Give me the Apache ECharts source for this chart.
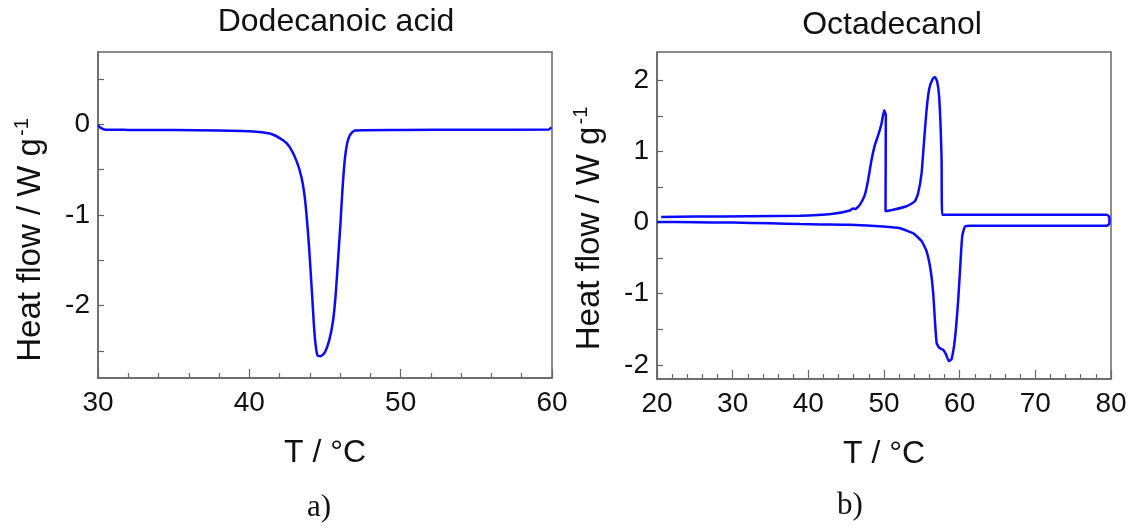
<!DOCTYPE html>
<html>
<head>
    <meta charset="utf-8">
    <title>DSC curves</title>
    <script src="https://cdn.jsdelivr.net/npm/echarts@6/dist/echarts.min.js"></script>
</head>
<body style="margin:0">
    <div id="main" style="width:1133px;height:526px;"></div>
    <script type="text/javascript">
        // a) dodecanoic acid, heating run
        var dodecT = [30.0, 30.2, 30.5, 32, 35, 38, 40.0, 41.35, 42.25, 42.67, 43.11, 43.44, 43.66, 43.81, 43.95, 44.06,
            44.17, 44.26, 44.37, 44.5, 44.7, 44.98, 45.27, 45.53, 45.71, 45.86, 46.02, 46.15, 46.3, 46.46, 46.64, 46.97,
            50, 55, 59.8, 59.95];
        var dodecQ = [-0.01, -0.04, -0.058, -0.06, -0.062, -0.066, -0.074, -0.10, -0.177, -0.25, -0.40, -0.58, -0.80, -1.06, -1.36, -1.65,
            -1.94, -2.20, -2.42, -2.55, -2.56, -2.52, -2.39, -2.17, -1.87, -1.50, -1.10, -0.73, -0.40, -0.21, -0.12, -0.066,
            -0.062, -0.058, -0.055, -0.03];

        // b) octadecanol, heating (lower branch, left to right)
        var heatT = [20, 25, 30, 35, 38.9, 41.7, 45.5, 49.9, 52.1, 53.86, 54.96, 55.62, 56.15, 56.5, 56.72, 56.95,
            57.29, 57.82, 58.18, 58.58, 58.93, 59.37, 59.81, 60.13, 60.34, 60.7, 61.5, 70, 79.4, 79.7, 79.8, 79.7];
        var heatQ = [0.01, 0.005, 0.0, -0.01, -0.02, -0.025, -0.03, -0.055, -0.08, -0.15, -0.26, -0.40, -0.66, -0.99, -1.36, -1.69,
            -1.76, -1.79, -1.85, -1.95, -1.92, -1.64, -1.08, -0.52, -0.19, -0.055, -0.045, -0.045, -0.045, -0.03, 0.03, 0.09];
        // b) octadecanol, cooling (upper branch, right to left)
        var coolT = [79.4, 70, 62, 57.69, 57.61, 57.48, 57.29, 57.03, 56.72, 56.42, 55.97, 55.62, 55.27, 54.96, 54.5, 54.08,
            52.98, 51.2, 50.2, 50.24, 50.02, 49.67, 49.23, 48.79, 48.35, 47.9, 47.47, 46.8, 46.2, 45.9, 45.5, 43.27,
            38.86, 32, 25, 20.55];
        var coolQ = [0.11, 0.11, 0.11, 0.11, 0.88, 1.35, 1.77, 1.98, 2.05, 2.02, 1.88, 1.58, 1.11, 0.69, 0.41, 0.30,
            0.23, 0.18, 0.16, 1.51, 1.58, 1.39, 1.23, 1.09, 0.88, 0.60, 0.39, 0.25, 0.19, 0.2, 0.17, 0.123,
            0.095, 0.09, 0.085, 0.08];

        // tick positions / labels
        var leftYLabels = [-2, -1, 0];
        var leftYTicks = [-2.5, -2, -1.5, -1, -0.5, 0, 0.5];
        var rightYLabels = [-2, -1, 0, 1, 2];
        var rightYTicks = [-2, -1.5, -1, -0.5, 0, 0.5, 1, 1.5, 2];

        function pairs(t, q) {
            return t.map(function (v, i) { return [v, q[i]]; });
        }

        var sans = 'Liberation Sans, Arial, sans-serif';
        var axisColor = '#666';

        function xAxisOpt(idx, min, max) {
            return {
                type: 'value', gridIndex: idx, min: min, max: max, interval: 10,
                axisLine: { show: true, onZero: false, lineStyle: { color: axisColor, width: 1.5 } },
                axisTick: { inside: true, length: 9, lineStyle: { color: axisColor, width: 1.2 } },
                minorTick: { show: true, splitNumber: 5, length: 5, lineStyle: { color: axisColor, width: 1.2 } },
                axisLabel: { margin: 11, fontSize: 28, color: '#111', fontFamily: sans },
                splitLine: { show: false },
                name: 'T / °C', nameLocation: 'middle', nameGap: 59,
                nameTextStyle: { fontSize: 32, color: '#111', fontFamily: sans }
            };
        }

        function yAxisOpt(idx, min, max, ticks, labels, shift) {
            return {
                type: 'value', gridIndex: idx, min: min, max: max,
                axisLine: { show: true, onZero: false, lineStyle: { color: axisColor, width: 1.5 } },
                axisTick: { inside: true, length: 6, customValues: ticks, lineStyle: { color: axisColor, width: 1.2 } },
                axisLabel: { margin: 8, fontSize: 28, color: '#111', fontFamily: sans, customValues: labels },
                splitLine: { show: false },
                name: 'Heat flow / W g{sup|-1}', nameLocation: 'middle', nameGap: 48,
                nameTextStyle: {
                    fontSize: 33, color: '#111', fontFamily: sans, padding: [0, shift, 0, 0],
                    rich: { sup: { fontSize: 20, color: '#111', fontFamily: sans, padding: [0, 0, 18, 2] } }
                }
            };
        }

        var myChart = echarts.init(document.getElementById('main'));
        var option = {
            animation: false,
            backgroundColor: '#fff',
            grid: [
                { left: 98, top: 52, width: 454, height: 326, show: true, borderColor: axisColor, borderWidth: 1.5 },
                { left: 657, top: 52, width: 454, height: 327, show: true, borderColor: axisColor, borderWidth: 1.5 }
            ],
            xAxis: [xAxisOpt(0, 30, 60), xAxisOpt(1, 20, 80)],
            yAxis: [
                yAxisOpt(0, -2.8, 0.8, leftYTicks, leftYLabels, 50),
                yAxisOpt(1, -2.2, 2.4, rightYTicks, rightYLabels, 26)
            ],
            series: [
                {
                    name: 'Dodecanoic acid', type: 'line', xAxisIndex: 0, yAxisIndex: 0,
                    data: pairs(dodecT, dodecQ), showSymbol: false, smooth: 0.2,
                    lineStyle: { color: '#0a0aff', width: 2.5 }
                },
                {
                    name: 'Octadecanol', type: 'line', xAxisIndex: 1, yAxisIndex: 1,
                    data: pairs(heatT, heatQ).concat(pairs(coolT, coolQ)), showSymbol: false, smooth: 0.15,
                    lineStyle: { color: '#0a0aff', width: 2.5 }
                }
            ],
            graphic: [
                { type: 'text', x: 336, y: 22, style: { text: 'Dodecanoic acid', font: '32px ' + sans, fill: '#111', textAlign: 'center', textVerticalAlign: 'middle' } },
                { type: 'text', x: 892, y: 25, style: { text: 'Octadecanol', font: '32px ' + sans, fill: '#111', textAlign: 'center', textVerticalAlign: 'middle' } },
                { type: 'text', x: 319, y: 508, style: { text: 'a)', font: '31px Liberation Serif, Times New Roman, serif', fill: '#111', textAlign: 'center', textVerticalAlign: 'middle' } },
                { type: 'text', x: 850, y: 506, style: { text: 'b)', font: '31px Liberation Serif, Times New Roman, serif', fill: '#111', textAlign: 'center', textVerticalAlign: 'middle' } }
            ]
        };
        myChart.setOption(option);
    </script>
</body>
</html>
